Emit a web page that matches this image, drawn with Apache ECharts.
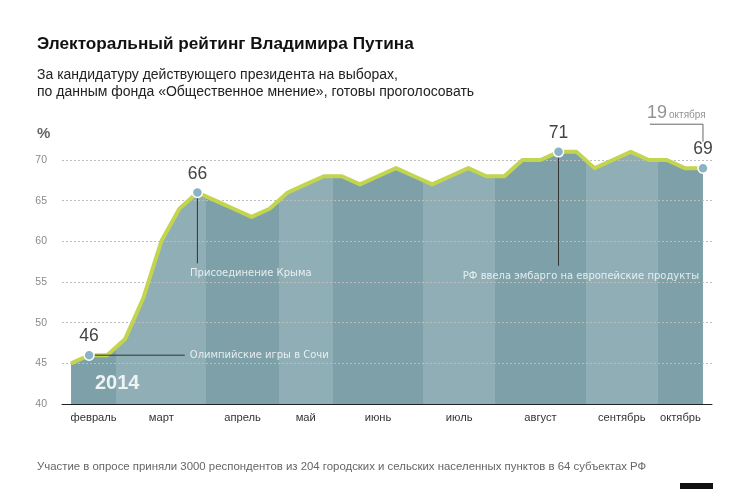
<!DOCTYPE html>
<html>
<head>
<meta charset="utf-8">
<script src="https://cdn.jsdelivr.net/npm/echarts@6/dist/echarts.min.js"></script>
<style>html,body{margin:0;padding:0;background:#fff}#c{width:750px;height:489px}</style>
</head>
<body>
<div id="c"></div>
<script>
// ---- data ----
const months = ['февраль','март','апрель','май','июнь','июль','август','сентябрь','октябрь'];
const monthCenters = [1.25, 5, 9.5, 13, 17, 21.5, 26, 30.5, 33.75];
const monthEdges = [-0.5, 2.5, 7.5, 11.5, 14.5, 19.5, 23.5, 28.5, 32.5, 35.5];
const rating = [45,46,46,48,53,60,64,66,65,64,63,64,66,67,68,68,67,68,69,68,67,68,69,68,68,70,70,71,71,69,70,71,70,70,69,69];
const highlightIdx = [1, 7, 27, 35];
const yMin = 40, yMax = 70, yStep = 5;
const eventTexts = ['Олимпийские игры в Сочи', 'Присоединение Крыма', 'РФ ввела эмбарго на европейские продукты'];

// ---- layout / style ----
const FN = "'Liberation Sans', Arial, sans-serif";
const FW = "'DejaVu Sans', 'Liberation Sans', sans-serif";
const bandColors = ['#7ea1a9', '#8faeb5'];

const pts = rating.map((v, i) => [i, v]);
const pieces = [];
for (let i = 0; i < monthEdges.length - 1; i++) {
  pieces.push({ gte: monthEdges[i], lt: monthEdges[i + 1] + (i === monthEdges.length - 2 ? 1 : 0), color: bandColors[i % 2] });
}

const eventLines = [
  { coords: [[1, 46], [6.3, 46]] },
  { coords: [[7, 66], [7, 57.3]] },
  { coords: [[27, 71], [27, 57.0]] },
  { coords: [[32.06, 74.4], [35, 74.4], [35, 72.25]], lineStyle: { color: '#666' } }
];
const eventLabels = [
  { value: [6.3, 46], text: eventTexts[0], label: { distance: 5 } },
  { value: [6.59, 56.0], text: eventTexts[1], label: { distance: 0 } },
  { value: [21.7, 55.7], text: eventTexts[2], label: { distance: 0 } }
];

const chart = echarts.init(document.getElementById('c'), null, { renderer: 'canvas' });
chart.setOption({
  animation: false,
  backgroundColor: '#fff',
  title: [
    { text: 'Электоральный рейтинг Владимира Путина', left: 37, top: 36, padding: 0,
      textStyle: { fontFamily: FN, fontSize: 17.2, fontWeight: 'bold', color: '#111' } },
    { text: 'За кандидатуру действующего президента на выборах,\nпо данным фонда «Общественное мнение», готовы проголосовать', left: 37, top: 67, padding: 0,
      textStyle: { fontFamily: FN, fontSize: 14, lineHeight: 17, fontWeight: 'normal', color: '#222' } },
    { text: 'Участие в опросе приняли 3000 респондентов из 204 городских и сельских населенных пунктов в 64 субъектах РФ', left: 37, top: 461, padding: 0,
      textStyle: { fontFamily: FN, fontSize: 11.4, fontWeight: 'normal', color: '#666' } }
  ],
  grid: { left: 62, right: 38, top: 160, bottom: 85 },
  visualMap: { type: 'piecewise', show: false, dimension: 0, seriesIndex: 0, pieces: pieces },
  xAxis: {
    type: 'value', min: -0.5, max: 35.5, z: 5,
    axisLine: { lineStyle: { color: '#222', width: 1 } },
    axisTick: { show: false }, splitLine: { show: false },
    axisLabel: {
      customValues: monthCenters, margin: 8, color: '#333', fontSize: 11.2, fontFamily: FN,
      formatter: function (v) {
        for (let i = 0; i < monthCenters.length; i++) if (Math.abs(monthCenters[i] - v) < 1e-6) return months[i];
        return '';
      }
    }
  },
  yAxis: {
    type: 'value', min: yMin, max: yMax, interval: yStep, z: 3,
    axisLine: { show: false }, axisTick: { show: false },
    axisLabel: { color: '#8a8a8a', fontSize: 10.5, fontFamily: FN, margin: 15 },
    splitLine: { lineStyle: { color: '#bdbdbd', type: [2, 2], width: 1 } }
  },
  graphic: [
    { type: 'text', left: 37, top: 126, style: { text: '%', fontFamily: FN, fontSize: 15, fontWeight: 'bold', fill: '#666' } },
    { type: 'text', left: 95, top: 373, z: 10, style: { text: '2014', fontFamily: FN, fontSize: 20, fontWeight: 'bold', fill: '#eef3f4' } },
    { type: 'rect', left: 680, top: 483, z: 10, shape: { width: 33, height: 6 }, style: { fill: '#111' } }
  ],
  series: [
    { type: 'line', data: pts, symbol: 'none', clip: false, z: 2,
      lineStyle: { width: 0, opacity: 0 }, areaStyle: { opacity: 1 } },
    { type: 'line', data: pts, symbol: 'none', clip: false, z: 4,
      lineStyle: { color: '#c3d44f', width: 4, join: 'round' } },
    { type: 'lines', coordinateSystem: 'cartesian2d', polyline: true, clip: false, z: 5,
      lineStyle: { color: '#333', width: 1, opacity: 1 }, data: eventLines },
    { type: 'scatter', clip: false, z: 6, symbolSize: 10,
      itemStyle: { color: '#8cb2c5', borderColor: '#fff', borderWidth: 1.5, opacity: 1 },
      label: { show: true, position: 'top', distance: 4, fontFamily: FN, fontSize: 17.5, color: '#444',
        formatter: p => String(p.value[1]) },
      data: highlightIdx.map(i => [i, rating[i]]) },
    { type: 'scatter', clip: false, z: 7, symbolSize: 0, silent: true,
      label: { show: true, position: 'right', distance: 5, fontFamily: FW, fontSize: 10, color: '#fff',
        formatter: p => p.data.text },
      data: eventLabels },
    { type: 'scatter', clip: false, z: 7, symbolSize: 0, silent: true,
      label: { show: true, position: 'right', distance: 0, formatter: '{a|19}{b|октября}',
        rich: { a: { fontFamily: FN, fontSize: 18, color: '#777', verticalAlign: 'bottom', lineHeight: 20 },
                b: { fontFamily: FN, fontSize: 10, color: '#777', verticalAlign: 'bottom', padding: [0, 0, 2, 2], lineHeight: 20 } } },
      data: [[31.9, 75.9]] }
  ]
});
</script>
</body>
</html>
